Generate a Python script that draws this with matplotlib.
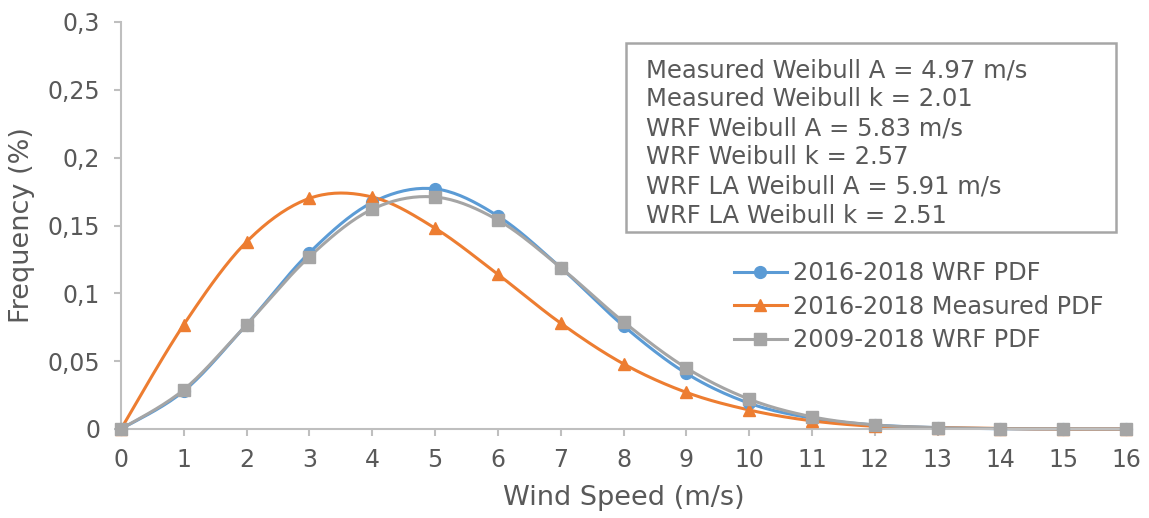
import numpy as np
import matplotlib
matplotlib.use("Agg")
import matplotlib.pyplot as plt

wind_speed = list(range(0, 17))
wrf_2016_2018 = [0, 0.028, 0.077, 0.130, 0.167, 0.177, 0.157, 0.119, 0.076, 0.041, 0.019, 0.008, 0.003, 0.001, 0.0002, 0.0, 0.0]
measured_2016_2018 = [0, 0.077, 0.138, 0.170, 0.171, 0.148, 0.114, 0.078, 0.048, 0.027, 0.014, 0.006, 0.002, 0.001, 0.0003, 0.0, 0.0]
wrf_2009_2018 = [0, 0.029, 0.077, 0.127, 0.162, 0.171, 0.154, 0.119, 0.079, 0.045, 0.022, 0.009, 0.003, 0.001, 0.0003, 0.0001, 0.0]
series_names = ["2016-2018 WRF PDF", "2016-2018 Measured PDF", "2009-2018 WRF PDF"]
y_ticks = [0, 0.05, 0.1, 0.15, 0.2, 0.25, 0.3]
y_tick_labels = ["0", "0,05", "0,1", "0,15", "0,2", "0,25", "0,3"]
info_lines = ["Measured Weibull A = 4.97 m/s", "Measured Weibull k = 2.01",
              "WRF Weibull A = 5.83 m/s", "WRF Weibull k = 2.57",
              "WRF LA Weibull A = 5.91 m/s", "WRF LA Weibull k = 2.51"]

TXT = "#595959"
AX = "#BFBFBF"


def smooth(x, y, n=20):
    # Excel-like smoothing (Catmull-Rom) for line rendering only
    x = np.asarray(x, float); y = np.asarray(y, float)
    px = np.concatenate([[x[0]], x, [x[-1]]])
    py = np.concatenate([[y[0]], y, [y[-1]]])
    xs, ys = [], []
    for i in range(1, len(px) - 2):
        p0, p1, p2, p3 = [np.array([px[j], py[j]]) for j in (i - 1, i, i + 1, i + 2)]
        c1 = p1 + (p2 - p0) / 6.0
        c2 = p2 - (p3 - p1) / 6.0
        t = np.linspace(0, 1, n, endpoint=(i == len(px) - 3))
        pts = ((1 - t) ** 3)[:, None] * p1 + (3 * (1 - t) ** 2 * t)[:, None] * c1 + \
              (3 * (1 - t) * t ** 2)[:, None] * c2 + (t ** 3)[:, None] * p2
        xs.append(pts[:, 0]); ys.append(pts[:, 1])
    return np.concatenate(xs), np.concatenate(ys)


fig = plt.figure(figsize=(11.49, 5.18), dpi=100)
ax = fig.add_axes([121 / 1149, 1 - 429 / 518, (1126 - 121) / 1149, (429 - 22) / 518])

styles = [("#5B9BD5", "o", 8.5), ("#ED7D31", "^", 9), ("#A5A5A5", "s", 8)]
data = [wrf_2016_2018, measured_2016_2018, wrf_2009_2018]
for (c, m, ms), ys, name in zip(styles, data, series_names):
    sx, sy = smooth(wind_speed, ys)
    ax.plot(sx, sy, color=c, lw=2.2, zorder=2, clip_on=False)
    ax.plot(wind_speed, ys, linestyle="none", marker=m, markersize=ms, color=c, zorder=3, clip_on=False)
    ax.plot([], [], color=c, lw=2.2, marker=m, markersize=ms, label=name)

ax.set_xlim(0, 16)
ax.set_ylim(0, 0.3)
ax.set_xticks(wind_speed)
ax.set_xticklabels([str(v) for v in wind_speed])
ax.set_yticks(y_ticks)
ax.set_yticklabels(y_tick_labels)

for s in ["top", "right"]:
    ax.spines[s].set_visible(False)
for s in ["left", "bottom"]:
    ax.spines[s].set_color(AX)
    ax.spines[s].set_linewidth(1.5)
ax.tick_params(axis="both", colors=AX, labelcolor=TXT, labelsize=17, length=5, width=1.5)
ax.tick_params(axis="x", pad=9)
ax.tick_params(axis="y", pad=10)

ax.set_xlabel("Wind Speed (m/s)", fontsize=19.5, color=TXT)
ax.xaxis.set_label_coords(624 / 1149, 1 - 498 / 518, transform=fig.transFigure)
ax.xaxis.label.set_va("center")
ax.set_ylabel("Frequency (%)", fontsize=19.5, color=TXT)
ax.yaxis.set_label_coords(22 / 1149, 1 - 225 / 518, transform=fig.transFigure)
ax.yaxis.label.set_va("center")

leg = ax.legend(loc="upper left", bbox_to_anchor=(734 / 1149, 1 - 261 / 518), bbox_transform=fig.transFigure,
                frameon=False, fontsize=17.3, handlelength=2.2, labelspacing=0.4, handletextpad=0.25,
                borderaxespad=0, borderpad=0)
for t in leg.get_texts():
    t.set_color(TXT)

ax.text(646 / 1149, 1 - 58 / 518, "\n".join(info_lines), transform=fig.transFigure,
        fontsize=17.5, color=TXT, va="top", ha="left", linespacing=1.27)
rect = plt.Rectangle((626 / 1149, 1 - 232 / 518), (1116 - 626) / 1149, (232 - 43) / 518,
                     transform=fig.transFigure, fill=False, edgecolor="#A6A6A6", lw=1.8)
fig.patches.append(rect)

fig.savefig("out.png", dpi=100)
